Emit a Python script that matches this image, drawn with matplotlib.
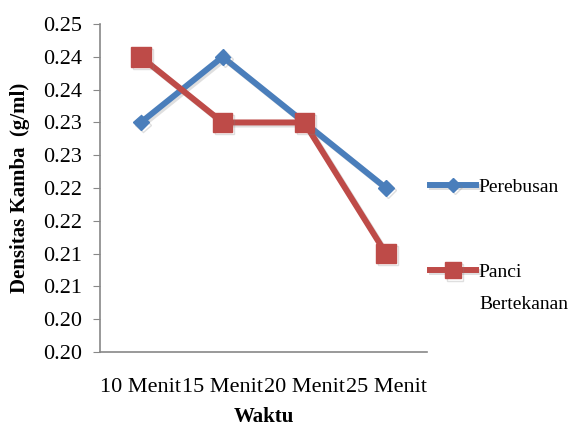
import numpy as np
import matplotlib.pyplot as plt
import matplotlib.patheffects as pe

waktu = ["10 Menit", "15 Menit", "20 Menit", "25 Menit"]
perebusan = [0.235, 0.245, 0.235, 0.225]
panci = [0.245, 0.235, 0.235, 0.215]
yticks = [0.200, 0.205, 0.210, 0.215, 0.220, 0.225, 0.230, 0.235, 0.240, 0.245, 0.250]
ylabels = ["0.20", "0.20", "0.21", "0.21", "0.22", "0.22", "0.23", "0.23", "0.24", "0.24", "0.25"]

plt.rcParams['font.family'] = ['Liberation Serif', 'DejaVu Serif']

fig = plt.figure(figsize=(5.73, 4.3), dpi=100)
ax = fig.add_axes([0.1745, 0.1814, 0.5705, 0.7626])

shadow = [pe.SimpleLineShadow(offset=(1.5, -1.5), alpha=0.25, shadow_color='gray'), pe.Normal()]
x = np.arange(len(waktu))
l1, = ax.plot(x, perebusan, color='#4a7ebb', lw=4.3, marker='D', ms=8,
              path_effects=shadow)
l2, = ax.plot(x, panci, color='#be4b48', lw=4.3, marker='s', ms=14,
              path_effects=shadow)

ax.set_xlim(-0.5, len(waktu) - 0.5)
ax.set_ylim(0.200, 0.250)
ax.set_xticks(x)
ax.set_xticklabels(waktu, fontsize=16)
ax.set_yticks(yticks)
ax.set_yticklabels(ylabels, fontsize=16)
ax.tick_params(axis='x', length=0, pad=19)
ax.tick_params(axis='y', length=5, color='#888888', pad=8)
for s in ['top', 'right']:
    ax.spines[s].set_visible(False)
for s in ['left', 'bottom']:
    ax.spines[s].set_color('#888888')
    ax.spines[s].set_linewidth(1.2)

ax.set_xlabel('Waktu', fontsize=15, fontweight='bold', labelpad=7)
ax.set_ylabel('Densitas Kamba  (g/ml)', fontsize=15, fontweight='bold', labelpad=9)

# legend entries placed one by one, second label wraps below its line
for line, name, ypos in [(l1, 'Perebusan', 0.565), (l2, 'Panci', 0.367)]:
    fig.legend([line], [name], loc='center left', bbox_to_anchor=(0.750, ypos),
               frameon=False, fontsize=14, handlelength=2.4, handletextpad=0.1,
               borderpad=0, borderaxespad=0, markerscale=0.85)
fig.text(0.837, 0.291, 'Bertekanan', fontsize=14, ha='left', va='center')

fig.savefig('out.png', dpi=100)
